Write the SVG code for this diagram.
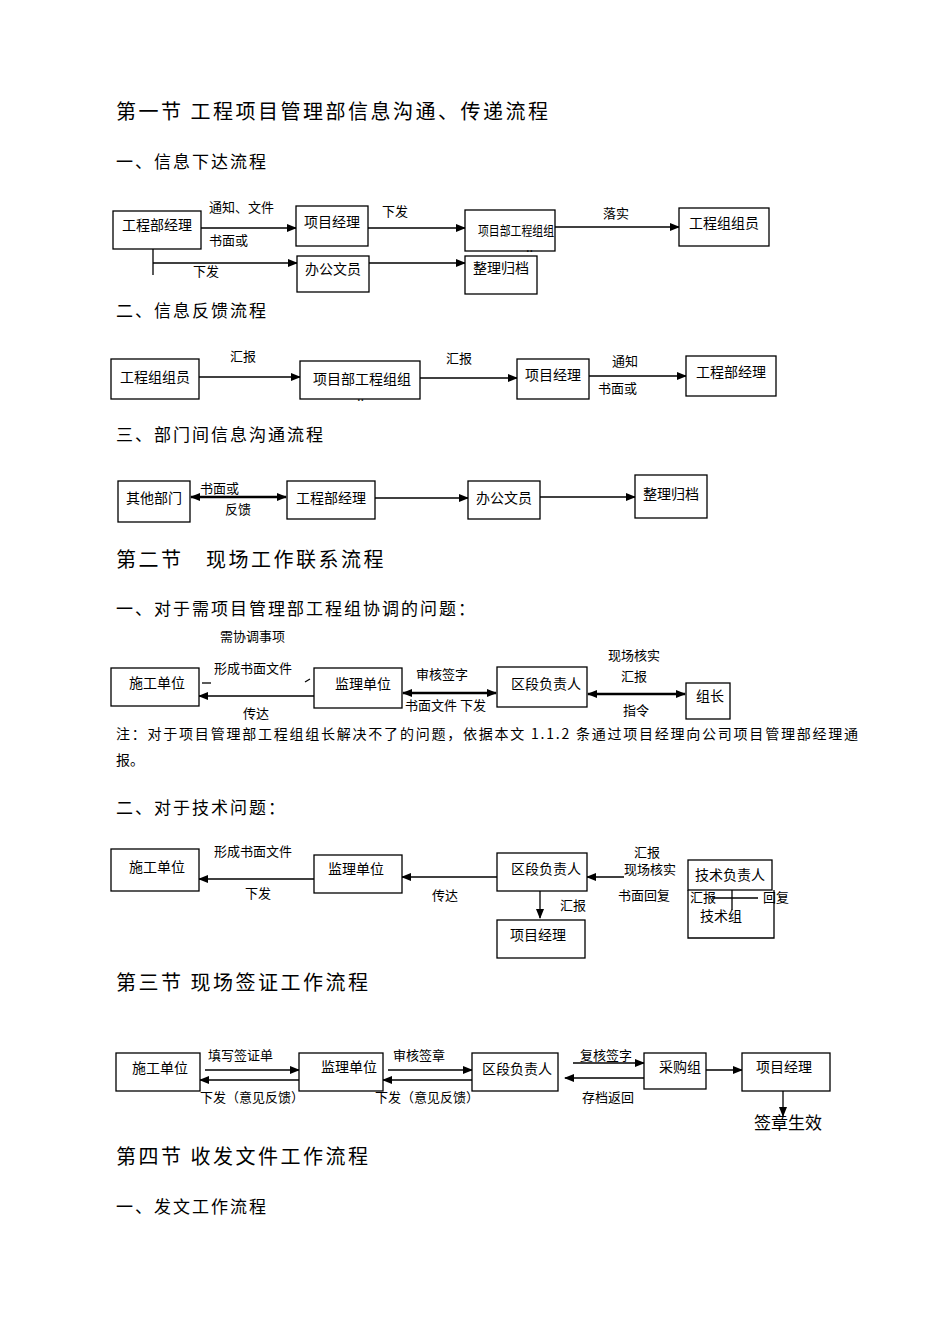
<svg xmlns="http://www.w3.org/2000/svg" width="950" height="1344" viewBox="0 0 950 1344">
<defs>
<marker id="ah" markerWidth="10" markerHeight="8" refX="9" refY="4" orient="auto" markerUnits="userSpaceOnUse"><path d="M0,0 L10,4 L0,8 Z" fill="#000"/></marker>
<marker id="as" markerWidth="10" markerHeight="8" refX="1" refY="4" orient="auto" markerUnits="userSpaceOnUse"><path d="M10,0 L0,4 L10,8 Z" fill="#000"/></marker>
<style>
text{font-family:"Noto Sans CJK SC","Liberation Serif",serif;fill:#000}
.h{font-size:20px;letter-spacing:2.5px}
.s{font-size:17px;letter-spacing:2px}
.t{font-size:14px}
.l{font-size:13px}
.b rect,.b path{fill:#fff;stroke:#000;stroke-width:1.3}
.c line,.c path{stroke:#000;stroke-width:1.3;fill:none}
.a{marker-end:url(#ah)}
.d{marker-end:url(#ah);marker-start:url(#as);stroke-width:2.5!important}
</style>
</defs>
<rect width="950" height="1344" fill="#fff"/>
<text class="h" x="116" y="119">第一节 工程项目管理部信息沟通、传递流程</text>
<text class="s" x="116" y="168">一、信息下达流程</text>
<text class="s" x="116" y="317">二、信息反馈流程</text>
<text class="s" x="116" y="441">三、部门间信息沟通流程</text>
<text class="h" x="116" y="567">第二节　现场工作联系流程</text>
<text class="s" x="116" y="615">一、对于需项目管理部工程组协调的问题：</text>
<text class="t" x="116" y="739" textLength="742" lengthAdjust="spacing">注：对于项目管理部工程组组长解决不了的问题，依据本文 1.1.2 条通过项目经理向公司项目管理部经理通</text>
<text class="t" x="116" y="765">报。</text>
<text class="s" x="116" y="814">二、对于技术问题：</text>
<text class="h" x="116" y="990">第三节 现场签证工作流程</text>
<text class="h" x="116" y="1164">第四节 收发文件工作流程</text>
<text class="s" x="116" y="1213">一、发文工作流程</text>

<g class="c" id="connectors">
<line class="a" x1="201" y1="228" x2="296" y2="228"/>
<line class="a" x1="368" y1="228" x2="465" y2="228"/>
<line class="a" x1="555" y1="227" x2="679" y2="227"/>
<line x1="153" y1="249" x2="153" y2="275"/>
<line class="a" x1="153" y1="263" x2="297" y2="263"/>
<line class="a" x1="369" y1="263" x2="465" y2="263"/>
<line class="a" x1="199" y1="377" x2="300" y2="377"/>
<line class="a" x1="420" y1="378" x2="517" y2="378"/>
<line class="a" x1="589" y1="376" x2="686" y2="376"/>
<line class="d" x1="191" y1="497" x2="286" y2="497"/>
<line class="a" x1="375" y1="498" x2="468" y2="498"/>
<line class="a" x1="540" y1="497" x2="635" y2="497"/>
<line x1="202" y1="683" x2="211" y2="683"/>
<line x1="305" y1="682" x2="310" y2="679"/>
<line class="a" x1="314" y1="696" x2="199" y2="696"/>
<line class="d" x1="403" y1="693" x2="496" y2="693"/>
<line class="d" x1="588" y1="694" x2="685" y2="694"/>
<line class="a" x1="314" y1="879" x2="199" y2="879"/>
<line class="a" x1="497" y1="877" x2="402" y2="877"/>
<line class="a" x1="624" y1="877" x2="587" y2="877"/>
<line class="a" x1="540" y1="891" x2="540" y2="918"/>
<line x1="198" y1="1068" x2="198" y2="1090"/>
<line class="a" x1="205" y1="1070" x2="299" y2="1070"/>
<line class="a" x1="299" y1="1080" x2="200" y2="1080"/>
<line class="a" x1="388" y1="1070" x2="472" y2="1070"/>
<line class="a" x1="472" y1="1080" x2="383" y2="1080"/>
<line class="a" x1="573" y1="1063" x2="644" y2="1063"/>
<line class="a" x1="644" y1="1078" x2="565" y2="1078"/>
<line class="a" x1="706" y1="1070" x2="742" y2="1070"/>
<line class="a" x1="783" y1="1091" x2="783" y2="1116"/>
</g>

<g class="t">
<text class="l" x="209" y="212">通知、文件</text>
<text class="l" x="209" y="245">书面或</text>
<text class="l" x="193" y="276">下发</text>
<text class="l" x="382" y="216">下发</text>
<text class="l" x="603" y="218">落实</text>
<text class="l" x="230" y="361">汇报</text>
<text class="l" x="446" y="363">汇报</text>
<text class="l" x="612" y="366">通知</text>
<text class="l" x="598" y="393">书面或</text>
<text class="l" x="200" y="493">书面或</text>
<text class="l" x="225" y="514">反馈</text>
<text class="l" x="220" y="641">需协调事项</text>
<text class="l" x="214" y="673">形成书面文件</text>
<text class="l" x="243" y="718">传达</text>
<text class="l" x="416" y="679">审核签字</text>
<rect x="404" y="697" width="92" height="16" fill="#fff"/>
<text class="l" x="405" y="710">书面文件 下发</text>
<text class="l" x="608" y="660">现场核实</text>
<text class="l" x="621" y="681">汇报</text>
<text class="l" x="623" y="715">指令</text>
<text class="l" x="214" y="856">形成书面文件</text>
<text class="l" x="245" y="898">下发</text>
<text class="l" x="432" y="900">传达</text>
<text class="l" x="560" y="910">汇报</text>
<text class="l" x="634" y="857">汇报</text>
<text class="l" x="624" y="874">现场核实</text>
<text class="l" x="618" y="900">书面回复</text>
<text class="l" x="208" y="1060">填写签证单</text>
<text class="l" x="393" y="1060">审核签章</text>
<text class="l" x="580" y="1060">复核签字</text>
<text class="l" x="200" y="1102">下发（意见反馈）</text>
<text class="l" x="375" y="1102">下发（意见反馈）</text>
<text class="l" x="582" y="1102">存档返回</text>
<text class="s" x="754" y="1129" style="letter-spacing:0">签章生效</text>
</g>

<g class="b">
<g id="n1"><rect x="113" y="211" width="88" height="38"/><text class="t" x="157" y="230" text-anchor="middle">工程部经理</text></g>
<g id="n2"><rect x="296" y="206" width="72" height="40"/><text class="t" x="332" y="227" text-anchor="middle">项目经理</text></g>
<g id="n3"><rect x="465" y="210" width="90" height="41"/><text class="l" x="478" y="235" textLength="76" lengthAdjust="spacingAndGlyphs">项目部工程组组</text><text class="l" x="526" y="252">..</text></g>
<g id="n4"><rect x="679" y="208" width="90" height="38"/><text class="t" x="724" y="228" text-anchor="middle">工程组组员</text></g>
<g id="n5"><rect x="297" y="256" width="72" height="36"/><text class="t" x="333" y="274" text-anchor="middle">办公文员</text></g>
<g id="n6"><rect x="465" y="256" width="72" height="38"/><text class="t" x="501" y="273" text-anchor="middle">整理归档</text></g>

<g id="n7"><rect x="111" y="359" width="88" height="40"/><text class="t" x="155" y="382" text-anchor="middle">工程组组员</text></g>
<g id="n8"><rect x="300" y="361" width="120" height="38"/><text class="t" x="362" y="384" text-anchor="middle">项目部工程组组</text><text class="l" x="357" y="401">..</text></g>
<g id="n9"><rect x="517" y="359" width="72" height="40"/><text class="t" x="553" y="380" text-anchor="middle">项目经理</text></g>
<g id="n10"><rect x="686" y="356" width="90" height="40"/><text class="t" x="731" y="377" text-anchor="middle">工程部经理</text></g>

<g id="n11"><rect x="118" y="481" width="72" height="41"/><text class="t" x="154" y="503" text-anchor="middle">其他部门</text></g>
<g id="n12"><rect x="287" y="481" width="88" height="38"/><text class="t" x="331" y="503" text-anchor="middle">工程部经理</text></g>
<g id="n13"><rect x="468" y="481" width="72" height="38"/><text class="t" x="504" y="503" text-anchor="middle">办公文员</text></g>
<g id="n14"><rect x="635" y="475" width="72" height="43"/><text class="t" x="671" y="499" text-anchor="middle">整理归档</text></g>

<g id="n15"><rect x="111" y="668" width="88" height="38"/><text class="t" x="157" y="688" text-anchor="middle">施工单位</text></g>
<g id="n16"><rect x="314" y="668" width="88" height="40"/><text class="t" x="363" y="689" text-anchor="middle">监理单位</text></g>
<g id="n17"><rect x="497" y="667" width="90" height="40"/><text class="t" x="546" y="689" text-anchor="middle">区段负责人</text></g>
<g id="n18"><rect x="686" y="683" width="44" height="36"/><text class="t" x="710" y="701" text-anchor="middle">组长</text></g>

<g id="n19"><rect x="111" y="849" width="88" height="42"/><text class="t" x="157" y="872" text-anchor="middle">施工单位</text></g>
<g id="n20"><rect x="314" y="855" width="88" height="38"/><text class="t" x="356" y="874" text-anchor="middle">监理单位</text></g>
<g id="n21"><rect x="497" y="853" width="90" height="38"/><text class="t" x="546" y="874" text-anchor="middle">区段负责人</text></g>
<g id="n22"><rect x="497" y="920" width="88" height="38"/><text class="t" x="538" y="940" text-anchor="middle">项目经理</text></g>
<g id="n23"><path d="M688,890 V938 H774 V890"/><text class="t" x="700" y="921">技术组</text><text class="l" x="690" y="902">汇报</text><text class="l" x="763" y="902">回复</text><path d="M712,898 H758 M732,890 V910" style="fill:none"/></g>
<g id="n24"><rect x="688" y="860" width="84" height="30"/><text class="t" x="730" y="880" text-anchor="middle">技术负责人</text></g>

<g id="n25"><rect x="116" y="1053" width="84" height="38"/><text class="t" x="160" y="1073" text-anchor="middle">施工单位</text></g>
<g id="n26"><rect x="299" y="1053" width="84" height="38"/><text class="t" x="349" y="1072" text-anchor="middle">监理单位</text></g>
<g id="n27"><rect x="472" y="1053" width="86" height="38"/><text class="t" x="517" y="1074" text-anchor="middle">区段负责人</text></g>
<g id="n28"><rect x="644" y="1053" width="62" height="36"/><text class="t" x="680" y="1072" text-anchor="middle">采购组</text></g>
<g id="n29"><rect x="742" y="1053" width="88" height="38"/><text class="t" x="784" y="1072" text-anchor="middle">项目经理</text></g>
</g>
</svg>
